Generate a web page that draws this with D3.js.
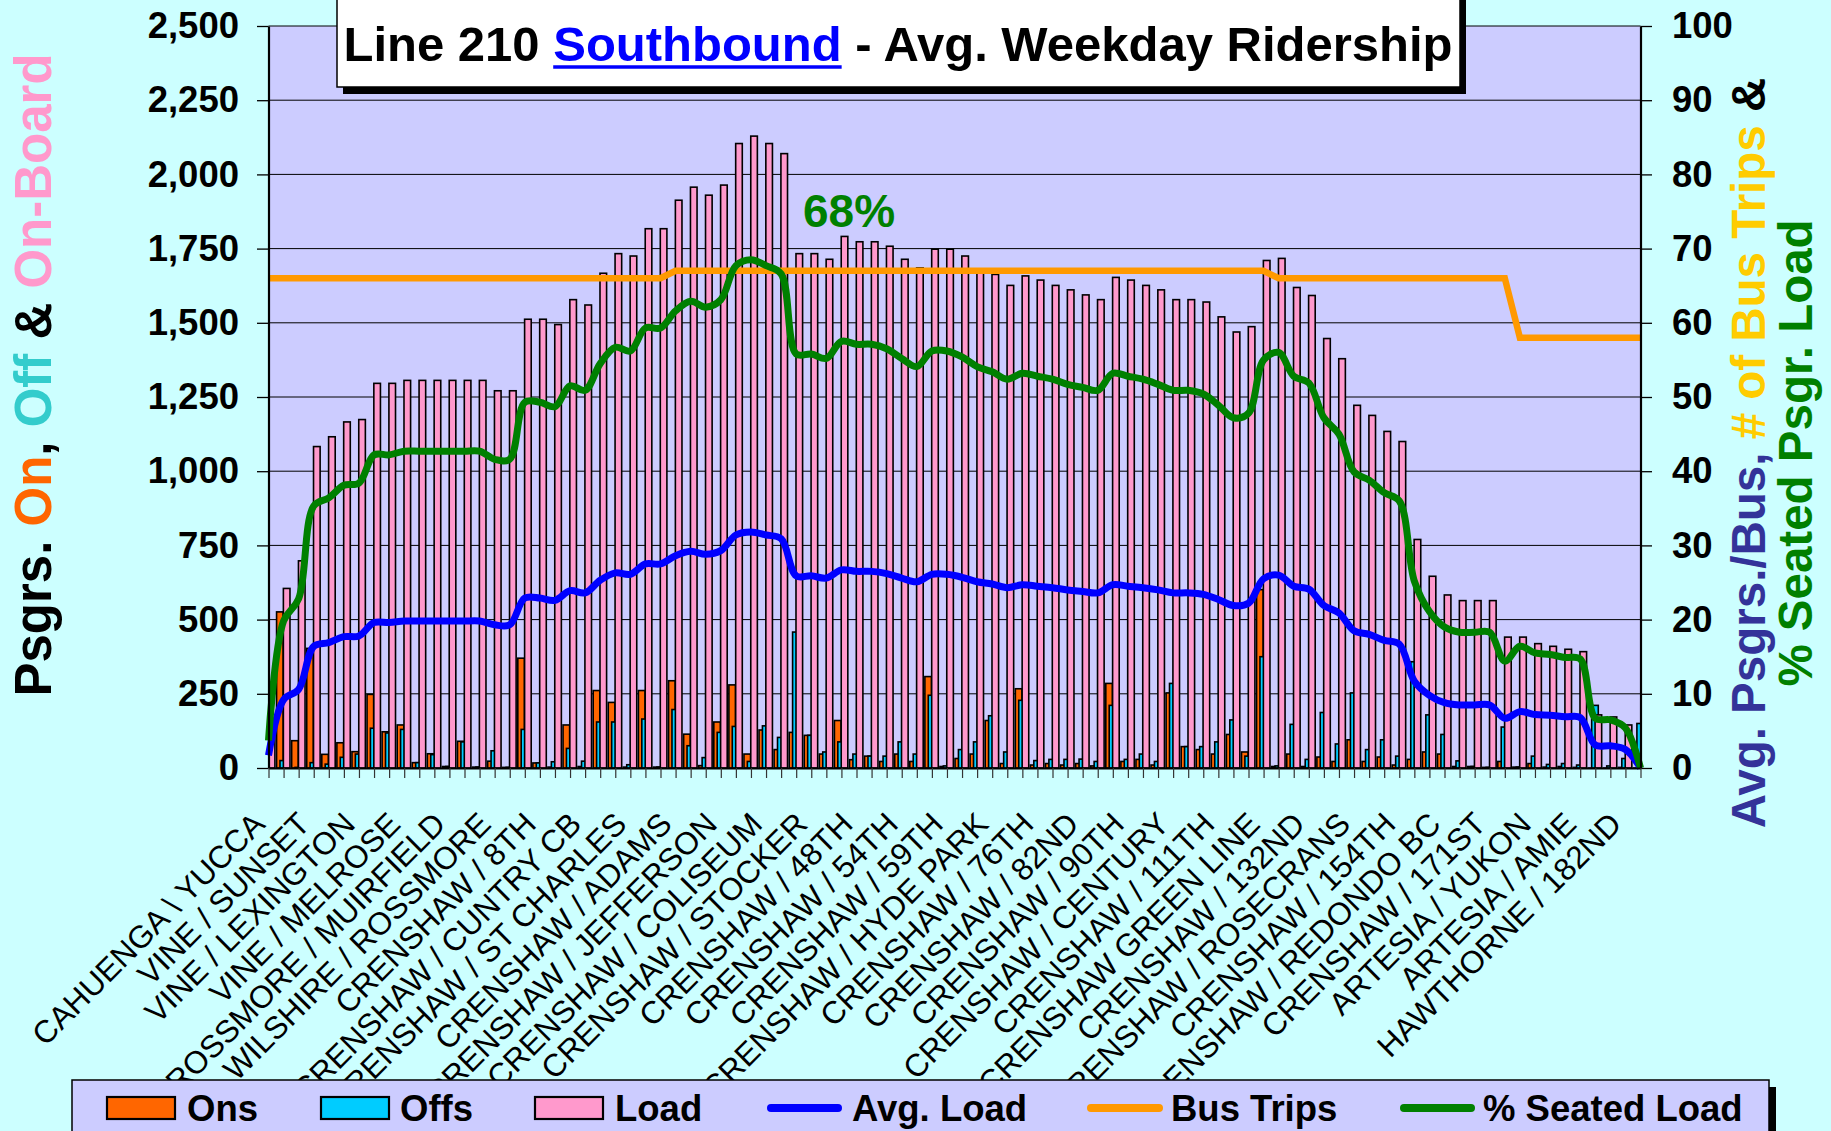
<!DOCTYPE html>
<html><head><meta charset="utf-8">
<script src="https://cdn.jsdelivr.net/npm/d3@7"></script>
<style>
html,body{margin:0;padding:0;background:#CCFFFF;overflow:hidden;}
svg{display:block;}
text{font-family:"Liberation Sans",Arial,Helvetica,sans-serif;}
</style></head><body>
<svg id="chart" width="1831" height="1131"></svg>
<script>
// ---------------- DATA ----------------
const stopLabels = [
  "CAHUENGA \\ YUCCA","VINE / SUNSET","VINE / LEXINGTON","VINE / MELROSE",
  "ROSSMORE / MUIRFIELD","WILSHIRE / ROSSMORE","CRENSHAW / 8TH","CRENSHAW / CUNTRY CB",
  "CRENSHAW / ST CHARLES","CRENSHAW / ADAMS","CRENSHAW / JEFFERSON","CRENSHAW / COLISEUM",
  "CRENSHAW / STOCKER","CRENSHAW / 48TH","CRENSHAW / 54TH","CRENSHAW / 59TH",
  "CRENSHAW / HYDE PARK","CRENSHAW / 76TH","CRENSHAW / 82ND","CRENSHAW / 90TH",
  "CRENSHAW / CENTURY","CRENSHAW / 111TH","CRENSHAW GREEN LINE","CRENSHAW / 132ND",
  "CRENSHAW / ROSECRANS","CRENSHAW / 154TH","CRENSHAW / REDONDO BC","CRENSHAW / 171ST",
  "ARTESIA / YUKON","ARTESIA / AMIE","HAWTHORNE / 182ND"
];
const labelEvery = 3;   // one stop label per 3 timepoints

const ons = [
  110,526,92,403,46,85,55,248,122,145,
  18,48,5,90,3,23,2,370,17,3,
  145,5,261,221,3,261,3,294,114,8,
  155,280,47,128,62,120,110,47,160,28,
  40,22,47,22,308,5,32,47,160,15,
  267,10,15,10,15,7,285,22,29,10,
  253,72,62,47,113,54,601,5,47,5,
  37,22,95,22,37,10,29,54,47,5,
  5,2,22,3,15,3,5,2,0,0,
  2,0];
const offs = [
  0,25,2,18,13,36,47,134,118,130,
  18,45,5,88,3,58,2,130,17,21,
  66,23,155,155,11,165,3,197,75,35,
  120,140,22,142,103,458,110,54,88,47,
  40,40,88,47,245,7,62,88,176,54,
  228,25,29,29,30,22,211,29,47,22,
  285,72,72,88,162,40,375,7,147,29,
  187,81,253,62,95,40,358,179,113,24,
  5,2,138,3,40,12,15,10,211,7,
  32,150];
const load = [
  110,605,698,1083,1116,1166,1174,1296,1296,1306,
  1306,1306,1306,1306,1306,1271,1271,1512,1512,1494,
  1578,1560,1667,1733,1725,1817,1817,1913,1957,1930,
  1964,2104,2129,2104,2070,1733,1733,1714,1791,1773,
  1773,1758,1714,1685,1748,1748,1725,1680,1663,1626,
  1658,1644,1626,1611,1594,1578,1653,1644,1626,1611,
  1578,1578,1570,1520,1469,1487,1710,1717,1619,1592,
  1447,1379,1222,1188,1134,1100,770,646,583,564,
  564,564,441,441,419,410,400,392,179,172,
  145,0];
const avgLoad = [
  1.7,9.2,10.6,16.4,16.9,17.7,17.8,19.6,19.6,19.8,
  19.8,19.8,19.8,19.8,19.8,19.3,19.3,22.9,22.9,22.6,
  23.9,23.6,25.3,26.3,26.1,27.5,27.5,28.6,29.2,28.8,
  29.3,31.4,31.8,31.4,30.9,25.9,25.9,25.6,26.7,26.5,
  26.5,26.2,25.6,25.1,26.1,26.1,25.7,25.1,24.8,24.3,
  24.7,24.5,24.3,24.0,23.8,23.6,24.7,24.5,24.3,24.0,
  23.6,23.6,23.4,22.7,21.9,22.2,25.5,26.0,24.5,24.1,
  21.9,20.9,18.5,18.0,17.2,16.7,11.7,9.8,8.8,8.5,
  8.5,8.5,6.7,7.6,7.2,7.1,6.9,6.8,3.1,3.0,
  2.5,0];
const busTrips = [
  66,66,66,66,66,66,66,66,66,66,
  66,66,66,66,66,66,66,66,66,66,
  66,66,66,66,66,66,66,67,67,67,
  67,67,67,67,67,67,67,67,67,67,
  67,67,67,67,67,67,67,67,67,67,
  67,67,67,67,67,67,67,67,67,67,
  67,67,67,67,67,67,67,66,66,66,
  66,66,66,66,66,66,66,66,66,66,
  66,66,66,58,58,58,58,58,58,58,
  58,58];
const seatedPct = [
  3.7,19.8,22.8,35.3,36.4,38.1,38.4,42.2,42.2,42.7,
  42.7,42.7,42.7,42.7,42.7,41.6,41.6,49.3,49.3,48.7,
  51.5,50.9,54.5,56.7,56.2,59.3,59.3,61.6,62.9,62.1,
  63.1,67.7,68.5,67.7,66.6,55.8,55.8,55.2,57.5,57.1,
  57.1,56.5,55.2,54.1,56.2,56.2,55.4,54.1,53.4,52.4,
  53.2,52.8,52.4,51.7,51.3,50.9,53.2,52.8,52.4,51.7,
  50.9,50.9,50.4,48.9,47.2,47.8,55.0,56.0,52.8,51.9,
  47.2,45.0,39.9,38.8,37.1,36.0,25.2,21.1,19.0,18.3,
  18.3,18.3,14.4,16.4,15.5,15.3,14.9,14.7,6.7,6.5,
  5.4,0];
const peakLabel = "68%";
const leftTicks = [0,250,500,750,1000,1250,1500,1750,2000,2250,2500];
const rightTicks = [0,10,20,30,40,50,60,70,80,90,100];

// ---------------- LAYOUT ----------------
const W = 1831, H = 1131;
const L = 268.5, R = 1640.5, T = 26, B = 768;
const C = {bg:"#CCFFFF", plot:"#CCCCFF", ons:"#FF6600", offs:"#00CCFF", load:"#FF99CC",
           avg:"#0000FF", trips:"#FF9900", seat:"#008000"};
const svg = d3.select("#chart");
const idx = d3.range(load.length);

const x = d3.scalePoint().domain(idx).range([L, R]);
const yL = d3.scaleLinear().domain([0, 2500]).range([B, T]);
const yR = d3.scaleLinear().domain([0, 100]).range([B, T]);

svg.append("rect").attr("width", W).attr("height", H).attr("fill", C.bg);
svg.append("rect").attr("x", L).attr("y", T).attr("width", R - L).attr("height", B - T).attr("fill", C.plot);

const defs = svg.append("defs");
defs.append("clipPath").attr("id", "plotClip").append("rect")
  .attr("x", L).attr("y", T - 10).attr("width", R - L).attr("height", B - T + 10);

// gridlines
svg.append("g").selectAll("line").data(leftTicks.slice(1)).join("line")
  .attr("x1", L).attr("x2", R).attr("y1", d => yL(d)).attr("y2", d => yL(d))
  .attr("stroke", "#000").attr("stroke-width", 1);

// bars
const barW = 6.6;
const barSeries = [
  {data: ons, dx: -7.0, fill: C.ons},
  {data: offs, dx: -3.6, fill: C.offs},
  {data: load, dx: -0.2, fill: C.load}
];
const barG = svg.append("g").attr("clip-path", "url(#plotClip)");
barSeries.forEach(s => {
  barG.append("g").selectAll("rect").data(s.data).join("rect")
    .attr("x", (d, i) => x(i) + s.dx)
    .attr("y", d => yL(d))
    .attr("width", barW)
    .attr("height", d => Math.max(0.01, B - yL(d)))
    .attr("fill", s.fill)
    .attr("stroke", "#000").attr("stroke-width", 1.6);
});

// lines
const lineG = svg.append("g");
lineG.append("path").datum(busTrips)
  .attr("d", d3.line().x((d, i) => x(i)).y(d => yR(d)))
  .attr("fill", "none").attr("stroke", C.trips).attr("stroke-width", 6.5);
lineG.append("path").datum(avgLoad)
  .attr("d", d3.line().x((d, i) => x(i)).y(d => yR(d)).curve(d3.curveCatmullRom.alpha(0.5)))
  .attr("fill", "none").attr("stroke", C.avg).attr("stroke-width", 7);
lineG.append("path").datum(seatedPct)
  .attr("d", d3.line().x((d, i) => x(i)).y(d => yR(d)).curve(d3.curveCatmullRom.alpha(0.5)))
  .attr("fill", "none").attr("stroke", C.seat).attr("stroke-width", 7);

svg.append("text").attr("x", 803).attr("y", 227).attr("fill", C.seat)
  .attr("font-size", 46).attr("font-weight", "bold").text(peakLabel);

// axes
const fmt = d3.format(",");
const axL = svg.append("g").attr("transform", `translate(${L},0)`)
  .call(d3.axisLeft(yL).tickValues(leftTicks).tickFormat(fmt).tickSizeInner(11.5).tickSizeOuter(0).tickPadding(18));
const axR = svg.append("g").attr("transform", `translate(${R},0)`)
  .call(d3.axisRight(yR).tickValues(rightTicks).tickSizeInner(11.5).tickSizeOuter(0).tickPadding(20));
const axB = svg.append("g").attr("transform", `translate(0,${B})`)
  .call(d3.axisBottom(x).tickFormat(() => "").tickSizeInner(10).tickSizeOuter(0));
[axL, axR].forEach(a => {
  a.selectAll("text").attr("font-size", 36.5).attr("font-weight", "bold").attr("fill", "#000")
    .attr("font-family", '"Liberation Sans",Arial,sans-serif');
  a.selectAll(".tick line").attr("stroke", "#000").attr("stroke-width", 1.3);
  a.select(".domain").attr("stroke", "#000").attr("stroke-width", 2.2);
});
axB.selectAll(".tick line").attr("stroke", "#333").attr("stroke-width", 1.2);
axB.select(".domain").attr("stroke", "#000").attr("stroke-width", 2.2);

// category labels
svg.append("g").selectAll("text").data(stopLabels).join("text")
  .attr("transform", (d, k) => `translate(${x(k * labelEvery) - 2},826) rotate(-45)`)
  .attr("text-anchor", "end").attr("font-size", 31.5).attr("fill", "#000")
  .text(d => d);

// left axis title
const lt = svg.append("text").attr("transform", "translate(50.5,375) rotate(-90)")
  .attr("text-anchor", "middle").attr("font-size", 51).attr("font-weight", "bold");
[["Psgrs. ", "#000"], ["On", C.ons], [", ", "#000"], ["Off", "#33CCCC"], [" & ", "#000"], ["On-Board", C.load]]
  .forEach(([t, c]) => lt.append("tspan").attr("fill", c).text(t));

// right axis titles
const rt1 = svg.append("text").attr("transform", "translate(1764.5,453) rotate(-90)")
  .attr("text-anchor", "middle").attr("font-size", 47.5).attr("font-weight", "bold");
[["Avg. Psgrs./Bus, ", "#333399"], ["# of Bus Trips", "#FFCC00"], [" &", "#000"]]
  .forEach(([t, c]) => rt1.append("tspan").attr("fill", c).text(t));
svg.append("text").attr("transform", "translate(1812,453) rotate(-90)")
  .attr("text-anchor", "middle").attr("font-size", 47.5).attr("font-weight", "bold")
  .attr("fill", C.seat).text("% Seated Psgr. Load");

// title box
svg.append("rect").attr("x", 343).attr("y", 0).attr("width", 1123).attr("height", 94).attr("fill", "#000");
svg.append("rect").attr("x", 337).attr("y", -4).attr("width", 1123).attr("height", 91)
  .attr("fill", "#fff").attr("stroke", "#000").attr("stroke-width", 1.5);
const title = svg.append("text").attr("x", 898).attr("y", 61).attr("text-anchor", "middle")
  .attr("font-size", 49).attr("font-weight", "bold").attr("fill", "#000");
title.append("tspan").text("Line 210 ");
title.append("tspan").attr("fill", "#0000FF").text("Southbound");
title.append("tspan").text(" - Avg. Weekday Ridership");
try {
  const tn = title.node();
  const sx = tn.getStartPositionOfChar(9).x;
  const sl = tn.getSubStringLength(9, 10);
  svg.append("line").attr("x1", sx).attr("x2", sx + sl).attr("y1", 67).attr("y2", 67)
    .attr("stroke", "#0000FF").attr("stroke-width", 3.5);
} catch (e) {}

// legend
svg.append("rect").attr("x", 1769).attr("y", 1087).attr("width", 7).attr("height", 60).attr("fill", "#000");
svg.append("rect").attr("x", 72).attr("y", 1080).attr("width", 1697).attr("height", 70)
  .attr("fill", C.plot).attr("stroke", "#000").attr("stroke-width", 1.5);
const legBoxes = [
  {label: "Ons", fill: C.ons, x: 107, tx: 187},
  {label: "Offs", fill: C.offs, x: 321, tx: 400},
  {label: "Load", fill: C.load, x: 535, tx: 615}
];
legBoxes.forEach(d => {
  svg.append("rect").attr("x", d.x).attr("y", 1097).attr("width", 68).attr("height", 22)
    .attr("fill", d.fill).attr("stroke", "#000").attr("stroke-width", 2.2);
  svg.append("text").attr("x", d.tx).attr("y", 1121).attr("font-size", 36.5).attr("font-weight", "bold").text(d.label);
});
const legLines = [
  {label: "Avg. Load", stroke: C.avg, x1: 771, x2: 838, tx: 852},
  {label: "Bus Trips", stroke: C.trips, x1: 1091, x2: 1159, tx: 1171},
  {label: "% Seated Load", stroke: C.seat, x1: 1404, x2: 1471, tx: 1483}
];
legLines.forEach(d => {
  svg.append("line").attr("x1", d.x1).attr("x2", d.x2).attr("y1", 1108).attr("y2", 1108)
    .attr("stroke", d.stroke).attr("stroke-width", 8).attr("stroke-linecap", "round");
  svg.append("text").attr("x", d.tx).attr("y", 1121).attr("font-size", 36.5).attr("font-weight", "bold").text(d.label);
});
</script>
</body></html>
